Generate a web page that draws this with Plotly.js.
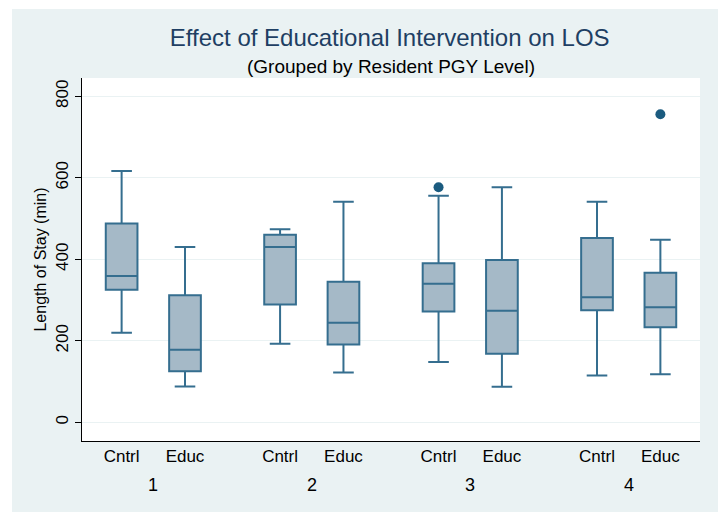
<!DOCTYPE html>
<html>
<head>
<meta charset="utf-8">
<script src="https://cdn.plot.ly/plotly-3.0.1.min.js"></script>
<style>
  html, body { margin: 0; padding: 0; background: #ffffff; }
  #chart { position: absolute; left: 12px; top: 9px; width: 706px; height: 503px; }
</style>
</head>
<body>
<div id="chart"></div>
<script>
// ---- Data ----
var pgyLevels = ['1', '2', '3', '4'];
var groups = ['Cntrl', 'Educ'];
// order: L1 Cntrl, L1 Educ, L2 Cntrl, L2 Educ, L3 Cntrl, L3 Educ, L4 Cntrl, L4 Educ
var lowerWhisker = [220, 88, 193, 122, 148, 87, 115, 118];
var q1Values     = [325, 125, 289, 191, 272, 168, 275, 233];
var medianValues = [359, 178, 430, 244, 340, 274, 307, 282];
var q3Values     = [488, 312, 460, 345, 390, 398, 452, 367];
var upperWhisker = [617, 430, 474, 541, 556, 577, 541, 448];
// outliers: [level index, group index, value]
var outlierLevel = [2, 3];
var outlierGroup = [0, 1];
var outlierValue = [577, 756];

// ---- Layout positions ----
function pos(levelIdx, groupIdx) { return levelIdx * 5 + groupIdx * 2; }
var xPos = [], tickText = [];
for (var i = 0; i < pgyLevels.length; i++) {
  for (var j = 0; j < groups.length; j++) {
    xPos.push(pos(i, j));
    tickText.push(groups[j]);
  }
}
var outX = outlierLevel.map(function (l, k) { return pos(l, outlierGroup[k]); });

var lineColor = '#356e8f';
var fillColor = '#a5b9c7';
var font = 'Liberation Sans, Arial, sans-serif';

var traces = [
  {
    type: 'box',
    x: xPos,
    q1: q1Values,
    median: medianValues,
    q3: q3Values,
    lowerfence: lowerWhisker,
    upperfence: upperWhisker,
    width: 1,
    whiskerwidth: 0.65,
    fillcolor: fillColor,
    line: { color: lineColor, width: 2 },
    boxpoints: false,
    hoverinfo: 'y',
    showlegend: false
  },
  {
    type: 'scatter',
    mode: 'markers',
    x: outX,
    y: outlierValue,
    marker: { color: '#1b5b7f', size: 10 },
    showlegend: false,
    hoverinfo: 'y'
  }
];

var annotations = pgyLevels.map(function (lv, i) {
  return {
    x: (pos(i, 0) + pos(i, 1)) / 2, xref: 'x',
    y: -0.122, yref: 'paper', yanchor: 'middle',
    text: lv, showarrow: false,
    font: { family: font, size: 18, color: '#000000' }
  };
});
annotations.push({
  x: 0.5, xref: 'paper', y: 1.0, yref: 'paper', yanchor: 'middle',
  yshift: 12,
  text: '(Grouped by Resident PGY Level)', showarrow: false,
  font: { family: font, size: 19, color: '#000000' }
});

var layout = {
  width: 706, height: 503,
  margin: { l: 70, r: 18, t: 69, b: 71 },
  paper_bgcolor: '#eaf2f3',
  plot_bgcolor: '#ffffff',
  title: {
    text: 'Effect of Educational Intervention on LOS',
    font: { family: font, size: 24, color: '#1e3f63' },
    x: 0.535, xanchor: 'center',
    y: 0.944, yanchor: 'middle'
  },
  xaxis: {
    range: [-1.25, 18.25],
    tickmode: 'array',
    tickvals: xPos,
    ticktext: tickText,
    ticks: '',
    showgrid: false,
    zeroline: false,
    showline: true,
    linecolor: '#000000',
    linewidth: 1,
    tickfont: { family: font, size: 17, color: '#000000' },
    fixedrange: true
  },
  yaxis: {
    range: [-46, 845],
    tickvals: [0, 200, 400, 600, 800],
    ticks: 'outside',
    ticklen: 6,
    tickcolor: '#000000',
    tickangle: -90,
    showgrid: true,
    gridcolor: '#eaf2f3',
    gridwidth: 1,
    zeroline: false,
    showline: true,
    linecolor: '#000000',
    linewidth: 1,
    tickfont: { family: font, size: 17, color: '#000000' },
    title: { text: 'Length of Stay (min)', font: { family: font, size: 16, color: '#000000' }, standoff: 2 },
    fixedrange: true
  },
  annotations: annotations,
  showlegend: false
};

Plotly.newPlot('chart', traces, layout, { displayModeBar: false, staticPlot: true });
</script>
</body>
</html>
